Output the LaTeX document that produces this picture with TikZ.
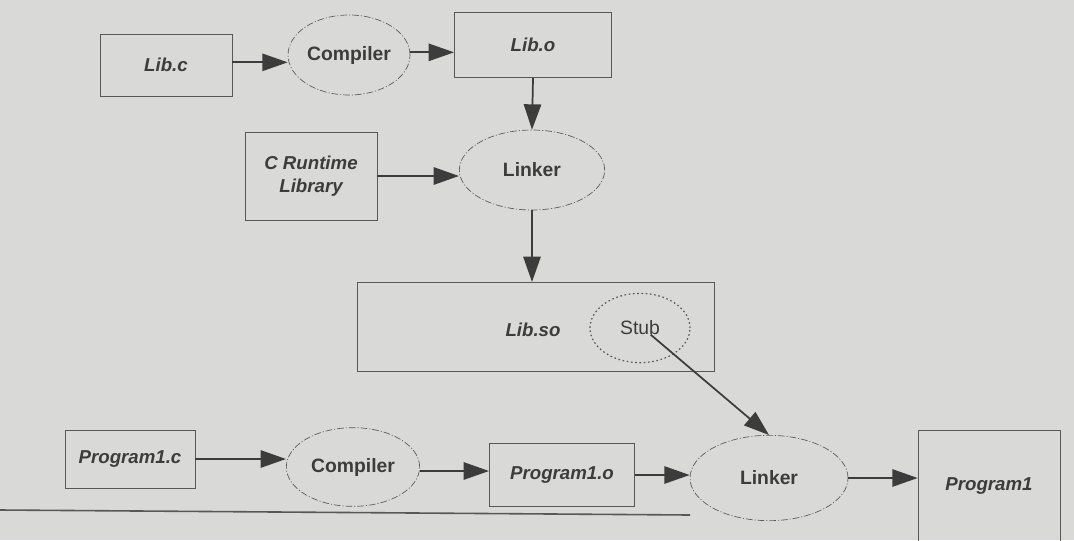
\documentclass[tikz,border=0pt]{standalone}
\usepackage{fontspec}
\setmainfont{Liberation Sans}
\usetikzlibrary{shapes.geometric}
\usetikzlibrary{arrows.meta}

\definecolor{paper}{HTML}{D9D9D7}
\definecolor{ink}{HTML}{3C3C3C}
\definecolor{edge}{HTML}{585858}

\tikzset{
  file/.style={draw=edge, line width=.5pt, inner sep=0pt, text=ink, align=center,
    font=\fontsize{14}{17}\selectfont\bfseries\itshape},
  tool/.style={ellipse, draw=edge, line width=.5pt, inner sep=0pt, text=ink,
    dash pattern=on 5pt off 1.5pt on .8pt off 1.5pt,
    font=\fontsize{14.5}{17}\selectfont\bfseries},
  stubring/.style={ellipse, draw=edge, line width=.9pt, inner sep=0pt, text=ink,
    dash pattern=on 1.2pt off 2pt, font=\fontsize{14.5}{17}\selectfont},
  flow/.style={draw=ink, line width=1.3pt, -{Triangle[length=19pt,width=13pt]}},
}

\begin{document}
\begin{tikzpicture}[x=.75pt,y=-.75pt]
  \fill[paper] (0,0) rectangle (1074,540);
  \useasboundingbox (0,0) rectangle (1074,540);

  % building the shared library
  \node (libc) [file, minimum width=99pt, minimum height=46.5pt] at (166,65) {Lib.c};
  \node (comp1) [tool, minimum width=91.5pt, minimum height=60pt] at (349,55) {Compiler};
  \node (libo) [file, minimum width=118pt, minimum height=49pt] at (533,45) {Lib.o};
  \node (crt) [file, minimum width=99pt, minimum height=66pt] at (311,176) {C Runtime\\Library};
  \node (link1) [tool, minimum width=109pt, minimum height=60pt] at (532,170) {Linker};
  \node (libso) [file, minimum width=268pt, minimum height=67pt] at (536,327) {};
  \node (libsot) [text=ink, font=\fontsize{14}{17}\selectfont\bfseries\itshape] at (533,330) {Lib.so};
  \node (stub) [stubring, minimum width=75pt, minimum height=52pt] at (640,328) {Stub};

  % building the program
  \node (p1c) [file, minimum width=97.5pt, minimum height=43.5pt] at (130,459) {Program1.c};
  \node (comp2) [tool, minimum width=100pt, minimum height=59pt] at (353,467) {Compiler};
  \node (p1o) [file, minimum width=109pt, minimum height=47pt] at (562,475) {Program1.o};
  \node (link2) [tool, minimum width=118.5pt, minimum height=64pt] at (769,478) {Linker};
  \node (prog) [file, minimum width=106.5pt, minimum height=84pt] at (989,486) {Program1};

  \draw[flow] ([yshift=2pt]libc.east) -- ([yshift=2pt]libc.east -| comp1.west);
  \draw[flow] ([yshift=2pt]comp1.east) -- ([yshift=2pt]comp1.east -| libo.west);
  \draw[flow] (libo.south) -- (link1.north);
  \draw[flow] (crt.east) -- (crt.east -| link1.west);
  \draw[flow] (link1.south) -- (link1.south |- libso.north);
  \draw[flow] ([shift={(8pt,-5pt)}]stub.center) -- (link2.north);

  \draw[flow] (p1c.east) -- (p1c.east -| comp2.west);
  \draw[flow] ([yshift=-3pt]comp2.east) -- ([yshift=-3pt]comp2.east -| p1o.west);
  \draw[flow] (p1o.east) -- (p1o.east -| link2.west);
  \draw[flow] (link2.east) -- (link2.east -| prog.west);

  % page rule under the figure
  \draw[edge, line width=1.2pt] (0,510) -- (690,515);
\end{tikzpicture}
\end{document}
